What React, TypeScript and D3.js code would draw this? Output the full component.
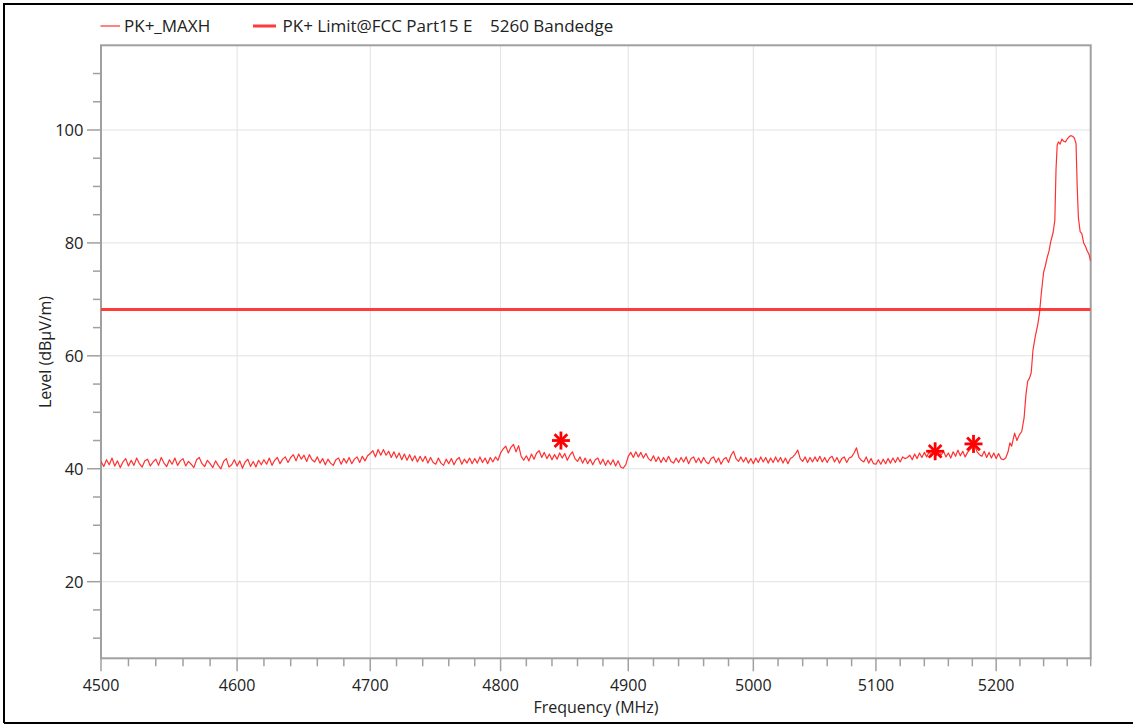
import React from "react";
import * as d3 from "d3";

// ---- Data ----
const sweepStart = 4500; // MHz
const sweepStep = 2; // MHz
// PK+_MAXH trace levels (dBµV/m) from 4500 MHz in 2 MHz steps up to 5208 MHz
const maxhLevels = [
  41.3, 40.4, 41.6, 40.7, 41.9, 40.5, 41.4, 40.2, 41.2, 41.8,
  40.5, 41.5, 40.6, 41.9, 40.9, 40.3, 41.4, 41.7, 40.5, 41.2,
  41.7, 40.6, 42.0, 41.0, 40.4, 41.6, 40.8, 41.9, 40.6, 41.4,
  41.8, 40.5, 41.3, 40.8, 40.2, 41.6, 42.0, 40.9, 40.4, 41.5,
  40.9, 40.2, 41.4, 40.6, 40.0, 41.3, 41.8, 40.3, 40.7, 41.6,
  40.5, 41.4, 40.1, 41.2, 41.7, 40.4, 41.3, 40.3, 41.5, 40.7,
  41.6, 40.8, 41.9, 40.6, 41.5, 42.0, 40.9, 41.7, 42.1, 41.1,
  42.0, 42.5, 41.4, 42.6, 41.7, 42.4, 41.3, 42.5, 41.6, 41.2,
  42.1, 41.0, 41.8, 40.7, 41.7, 41.0, 40.6, 41.6, 41.9, 40.8,
  41.8, 41.0, 42.0, 40.9, 41.7, 42.1, 41.1, 42.2, 41.4, 42.3,
  42.7, 43.2, 42.1, 43.4, 42.4, 43.4, 42.4, 43.1, 42.0, 43.0,
  41.9, 42.8, 41.6, 42.6, 41.5, 42.5, 41.4, 42.3, 41.2, 42.2,
  41.3, 42.2, 41.0, 42.0, 41.1, 40.8, 41.9, 41.0, 40.6, 41.7,
  40.9, 41.8, 40.7, 41.6, 42.0, 40.8, 41.7, 41.0, 41.9, 40.9,
  41.8, 41.0, 42.1, 41.1, 41.9, 40.9, 42.0, 41.2, 42.1, 41.5,
  42.8, 43.5, 44.0, 42.8, 43.8, 44.3, 43.0, 44.1, 42.2, 41.5,
  42.3, 41.4, 42.6, 41.7, 42.8, 43.2, 42.0, 42.9, 41.8, 42.6,
  41.6, 42.5, 41.7, 42.8, 41.9, 42.7, 41.5, 42.4, 43.0, 41.8,
  41.3, 42.1, 41.0, 41.9, 40.9, 41.7, 40.7, 41.6, 41.9, 40.8,
  41.7, 40.6, 41.5, 40.7, 41.6, 40.5, 41.4, 40.3, 40.1, 40.7,
  42.2, 42.9, 42.0, 43.0, 42.1, 42.9, 41.9, 42.7, 41.8, 41.4,
  42.3, 41.3, 42.1, 41.1, 42.0, 41.2, 42.2, 41.3, 41.0, 41.9,
  41.1, 42.0, 41.2, 42.1, 40.9, 41.8, 42.1, 41.1, 41.9, 41.0,
  42.0, 41.2, 40.9, 41.8, 42.1, 41.1, 41.9, 40.8, 41.7, 42.0,
  41.1, 42.4, 43.1, 41.8, 41.3, 42.1, 41.2, 42.0, 41.0, 41.8,
  40.9, 41.9, 41.1, 42.1, 41.2, 42.0, 41.0, 41.9, 41.1, 42.1,
  41.2, 42.0, 41.0, 41.9, 40.9, 41.8, 42.1, 42.6, 43.3, 41.8,
  41.3, 42.1, 41.1, 42.0, 41.2, 42.1, 41.3, 42.2, 41.2, 42.0,
  41.1, 41.9, 42.2, 41.2, 42.0, 41.0, 41.8, 42.1, 41.1, 41.9,
  42.1, 42.8, 43.7, 42.0, 41.5, 41.2, 42.1, 41.0, 41.8, 40.9,
  40.8, 41.6, 40.8, 41.7, 40.9, 41.8, 41.0, 41.9, 41.1, 42.0,
  41.2, 42.1, 41.8, 42.0, 42.4, 41.6, 42.6, 41.8, 42.8, 42.0,
  42.9, 42.1, 43.0, 42.2, 43.1, 42.3, 43.2, 42.4, 43.1, 42.1,
  42.8, 41.9, 43.0, 42.2, 43.3, 42.3, 43.1, 42.1, 42.9, 43.4,
  43.8, 44.1, 43.0, 42.5, 42.2, 43.1, 42.0, 42.9, 41.9, 42.8,
  41.8, 42.7, 41.8, 41.6, 41.9,
];
// Band-edge rise and 5260 MHz carrier (irregular sweep points)
const edgeFreqs = [
  5210, 5211.5, 5213, 5215.5, 5217.5, 5219.5, 5221.5, 5223.5, 5225, 5226.5,
  5228, 5229.5, 5231, 5233, 5235, 5236.5, 5238, 5240, 5241.5, 5243,
  5244.5, 5246, 5248, 5249.5, 5250.5, 5251.5, 5252.5, 5254, 5255.5, 5257,
  5258.5, 5260, 5261.5, 5263, 5264.5, 5266, 5267.5, 5268.5, 5269.5, 5271,
  5272.5, 5274, 5275.5, 5277, 5278.5, 5280,
];
const edgeLevels = [
  43.0, 44.6, 44.0, 46.3, 45.0, 46.0, 46.6, 49.0, 53.0, 55.5,
  56.0, 57.0, 61.0, 63.5, 65.5, 67.5, 71.0, 74.8, 76.0, 77.4,
  78.5, 80.2, 81.8, 84.0, 93.0, 97.3, 97.9, 97.5, 98.4, 98.0,
  97.9, 98.4, 98.8, 99.0, 98.9, 98.6, 97.6, 90.0, 84.5, 82.0,
  81.6, 80.0, 79.4, 78.6, 78.0, 76.8,
];
const limitLevel = 68.2;
const markerFreqs = [4847, 5149, 5181];
const markerLevels = [45.0, 43.1, 44.4];
const xMajorTicks = [4500, 4600, 4700, 4800, 4900, 5000, 5100, 5200];
const yMajorTicks = [20, 40, 60, 80, 100];
const legendLabels = ["PK+_MAXH", "PK+ Limit@FCC Part15 E    5260 Bandedge"];

const W = 1133;
const H = 725;
const L = 101, R = 1090.7, T = 45.3, B = 658.3;
const FONT = "'Open Sans', 'Noto Sans', sans-serif";
const AXIS = "#a0a0a0";
const GRID = "#e2e2e2";
const TEXT = "#222";

export default function App() {
  const x = d3.scaleLog().domain([4500, 5280]).range([L, R]);
  const y = d3.scaleLinear().domain([6.43, 115]).range([B, T]);

  const trace: [number, number][] = [
    ...maxhLevels.map((v, i) => [sweepStart + i * sweepStep, v] as [number, number]),
    ...edgeFreqs.map((f, i) => [f, edgeLevels[i]] as [number, number]),
  ];
  const line = d3
    .line<[number, number]>()
    .x((d) => x(d[0]))
    .y((d) => y(d[1]));

  const xMinor = d3.range(4520, 5281, 20).filter((f) => f % 100 !== 0);
  const yMinor = d3.range(10, 115, 5).filter((v) => v % 20 !== 0);

  return (
    <svg
      width={W}
      height={H}
      style={{ position: "absolute", left: 0, top: 0, background: "#fff" }}
      fontFamily={FONT}
    >
      <rect x={0} y={0} width={W} height={H} fill="#fff" />
      {/* outer frame */}
      <path d={`M4,${H - 2} L4,4 L${W + 2},4 M4,${H - 2} L${W + 2},${H - 2}`} stroke="#000" strokeWidth={2} fill="none" />

      {/* legend */}
      <line x1={100.5} x2={120} y1={26} y2={26} stroke="#ff3030" strokeWidth={1.2} />
      <text x={124} y={26} dy="0.35em" fontSize={17} fill={TEXT}>{legendLabels[0]}</text>
      <line x1={253} x2={276} y1={26} y2={26} stroke="#ff3b3b" strokeWidth={3} />
      <text x={282.5} y={26} dy="0.35em" fontSize={17} fill={TEXT} style={{ whiteSpace: "pre" }} xmlSpace="preserve">{legendLabels[1]}</text>

      {/* grid */}
      {xMajorTicks.slice(1).map((f) => (
        <line key={"gx" + f} x1={x(f)} x2={x(f)} y1={T} y2={B} stroke={GRID} strokeWidth={1} />
      ))}
      {yMajorTicks.map((v) => (
        <line key={"gy" + v} x1={L} x2={R} y1={y(v)} y2={y(v)} stroke={GRID} strokeWidth={1} />
      ))}

      {/* plot frame */}
      <rect x={L} y={T} width={R - L} height={B - T} fill="none" stroke={AXIS} strokeWidth={2} />

      {/* x ticks */}
      {xMajorTicks.map((f) => (
        <g key={"xt" + f}>
          <line x1={x(f)} x2={x(f)} y1={B} y2={B + 13} stroke={AXIS} strokeWidth={1.5} />
          <text x={x(f)} y={691} textAnchor="middle" fontSize={16} fill={TEXT}>{f}</text>
        </g>
      ))}
      {xMinor.map((f) => (
        <line key={"xm" + f} x1={x(f)} x2={x(f)} y1={B} y2={B + 8} stroke={AXIS} strokeWidth={1.5} />
      ))}
      {/* y ticks */}
      {yMajorTicks.map((v) => (
        <g key={"yt" + v}>
          <line x1={L - 14} x2={L} y1={y(v)} y2={y(v)} stroke={AXIS} strokeWidth={1.5} />
          <text x={83.5} y={y(v)} dy="0.36em" textAnchor="end" fontSize={16.5} fill={TEXT}>{v}</text>
        </g>
      ))}
      {yMinor.map((v) => (
        <line key={"ym" + v} x1={L - 8} x2={L} y1={y(v)} y2={y(v)} stroke={AXIS} strokeWidth={1.5} />
      ))}

      {/* axis titles */}
      <text x={596} y={713} textAnchor="middle" fontSize={16} fill={TEXT}>Frequency (MHz)</text>
      <text transform={`translate(51,352) rotate(-90)`} textAnchor="middle" fontSize={16} fill={TEXT}>Level (dBµV/m)</text>

      <defs>
        <clipPath id="plotClip">
          <rect x={L} y={T} width={R - L} height={B - T} />
        </clipPath>
      </defs>
      <g clipPath="url(#plotClip)">
        {/* limit line */}
        <line x1={L} x2={R} y1={y(limitLevel)} y2={y(limitLevel)} stroke="#ff3b3b" strokeWidth={3} />
        {/* trace */}
        <path d={line(trace) || ""} fill="none" stroke="#ff1a1a" strokeWidth={1.2} strokeOpacity={0.9} strokeLinejoin="round" />
        {/* markers */}
        {markerFreqs.map((f, i) => {
          const cx = x(f);
          const cy = y(markerLevels[i]);
          const r = 9;
          return (
            <g key={"mk" + i} stroke="#ff0000" strokeWidth={2.8}>
              {[0, 45, 90, 135].map((a) => {
                const rad = (a * Math.PI) / 180;
                return (
                  <line
                    key={a}
                    x1={cx - r * Math.cos(rad)}
                    y1={cy - r * Math.sin(rad)}
                    x2={cx + r * Math.cos(rad)}
                    y2={cy + r * Math.sin(rad)}
                  />
                );
              })}
            </g>
          );
        })}
      </g>
    </svg>
  );
}
